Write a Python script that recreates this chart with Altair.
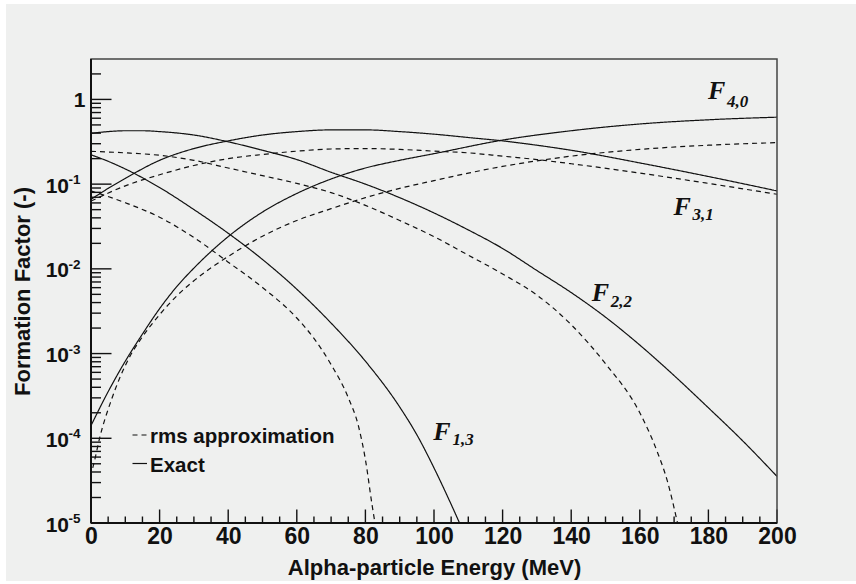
import altair as alt
import pandas as pd

# ---------------- data ----------------
E_F40_EXACT = [0, 5, 10, 15, 20, 25, 30, 40, 50, 60, 70, 80, 90, 100, 120, 140, 160, 180, 200]
F40_EXACT = [1.41e-4, 3.55e-4, 8.13e-4, 1.70e-3, 3.39e-3, 6.17e-3, 1.02e-2, 0.0240, 0.0468, 0.0776,
             0.115, 0.155, 0.191, 0.229, 0.331, 0.427, 0.513, 0.575, 0.617]

E_F40_RMS = [0.5, 1, 2.5, 6, 11, 15, 20, 25, 30, 40, 50, 60, 70, 80, 90, 100, 110, 120, 131, 140, 160,
             180, 200]
F40_RMS = [4.47e-5, 5.37e-5, 1.0e-4, 2.88e-4, 8.71e-4, 1.58e-3, 2.88e-3, 4.79e-3, 7.24e-3, 0.0140,
           0.0243, 0.0372, 0.0513, 0.0692, 0.0891, 0.110, 0.135, 0.162, 0.191, 0.214, 0.257, 0.288, 0.309]

E_F31_EXACT = [0, 5, 10, 20, 30, 40, 50, 60, 70, 80, 90, 100, 110, 120, 130, 140, 160, 180, 200]
F31_EXACT = [0.0661, 0.0891, 0.117, 0.191, 0.263, 0.324, 0.380, 0.417, 0.437, 0.437, 0.417, 0.389,
             0.355, 0.324, 0.288, 0.251, 0.178, 0.123, 0.0832]

E_F31_RMS = [0, 10, 20, 30, 40, 50, 60, 70, 80, 90, 100, 110, 120, 130, 140, 160, 180, 200]
F31_RMS = [0.0631, 0.0955, 0.129, 0.166, 0.200, 0.224, 0.245, 0.260, 0.263, 0.257, 0.245, 0.234,
           0.214, 0.195, 0.174, 0.135, 0.102, 0.0759]

E_F22_EXACT = [0, 5, 10, 15, 20, 30, 40, 50, 60, 70, 80, 90, 100, 110, 120, 130, 140, 150, 160,
               170, 180, 190, 200]
F22_EXACT = [0.398, 0.417, 0.427, 0.427, 0.417, 0.380, 0.316, 0.251, 0.195, 0.138, 0.100, 0.0692,
             0.0457, 0.0288, 0.0174, 9.55e-3, 5.25e-3, 2.69e-3, 1.26e-3, 5.50e-4, 2.29e-4, 9.33e-5, 3.55e-5]

E_F22_RMS = [0, 10, 20, 30, 40, 50, 60, 70, 80, 90, 100, 110, 120, 130, 140, 150, 160, 165, 168, 171]
F22_RMS = [0.244, 0.234, 0.219, 0.191, 0.155, 0.126, 0.102, 0.0794, 0.0562, 0.0372, 0.0240, 0.0145,
           8.71e-3, 4.90e-3, 2.19e-3, 7.59e-4, 2.00e-4, 7.08e-5, 3.16e-5, 1.0e-5]

E_F13_EXACT = [0, 5, 10, 20, 30, 40, 50, 60, 70, 80, 90, 95, 100, 105, 108]
F13_EXACT = [0.222, 0.186, 0.151, 0.0912, 0.0501, 0.0263, 0.0129, 5.75e-3, 2.29e-3, 8.13e-4,
             2.34e-4, 1.10e-4, 4.47e-5, 1.66e-5, 8.9e-6]

E_F13_RMS = [0, 10, 20, 30, 40, 50, 60, 65, 70, 75, 78, 80, 82, 83]
F13_RMS = [0.0832, 0.0603, 0.0407, 0.0234, 0.0120, 6.03e-3, 2.63e-3, 1.51e-3, 7.41e-4, 3.02e-4,
           1.38e-4, 5.62e-5, 1.58e-5, 8.9e-6]

# curve labels: main letter and subscript, anchored in data coordinates
LABEL_MAIN = ["F", "F", "F", "F"]
LABEL_MAIN_E = [179.9, 169.8, 146.0, 99.8]
LABEL_MAIN_F = [1.01, 0.0431, 4.2e-3, 9.66e-5]
LABEL_SUB = ["4,0", "3,1", "2,2", "1,3"]
LABEL_SUB_E = [185.4, 175.4, 151.5, 105.4]
LABEL_SUB_F = [0.82, 0.0376, 3.56e-3, 8.28e-5]

X_MAJOR = [0, 20, 40, 60, 80, 100, 120, 140, 160, 180, 200]
X_MINOR = [v for v in range(5, 200, 5) if v % 20 != 0]
Y_DECADES = [1e-5, 1e-4, 1e-3, 1e-2, 1e-1]
Y_EXPONENTS = ["-5", "-4", "-3", "-2", "-1"]
Y_MAJOR = Y_DECADES + [1.0]
Y_MINOR = [m * d for d in [1e-5, 1e-4, 1e-3, 1e-2, 1e-1] for m in range(2, 10)] + [2.0]

LEGEND_LABELS = ["rms approximation", "Exact"]

# ---------------- styling ----------------
W, H = 686, 464
SANS = "Liberation Sans, Arial, Helvetica, sans-serif"
SERIF = "Liberation Serif, Times New Roman, serif"
INK = "#111111"
BG = "#eff0ef"
DASH = [5, 4]

xscale = alt.Scale(domain=[0, 200], nice=False, zero=False)
yscale = alt.Scale(type="log", domain=[1e-5, 3.0], nice=False)

rows = []
for name, kind, es, fs in [
    ("F40", "Exact", E_F40_EXACT, F40_EXACT),
    ("F40", "rms approximation", E_F40_RMS, F40_RMS),
    ("F31", "Exact", E_F31_EXACT, F31_EXACT),
    ("F31", "rms approximation", E_F31_RMS, F31_RMS),
    ("F22", "Exact", E_F22_EXACT, F22_EXACT),
    ("F22", "rms approximation", E_F22_RMS, F22_RMS),
    ("F13", "Exact", E_F13_EXACT, F13_EXACT),
    ("F13", "rms approximation", E_F13_RMS, F13_RMS),
]:
    for i, (e, f) in enumerate(zip(es, fs)):
        rows.append({"E": e, "F": f, "curve": name + "_" + kind, "kind": kind, "order": i})
lines_df = pd.DataFrame(rows)

one = alt.Data(values=[{}])

# gray panel background (with the thin white margin of the original)
bg = alt.Chart(one).mark_rect(color=BG).encode(
    x=alt.value(-85), x2=alt.value(765), y=alt.value(-55), y2=alt.value(522)
)

lines = alt.Chart(lines_df).mark_line(
    clip=True, interpolate="monotone", color=INK, strokeWidth=1.2
).encode(
    x=alt.X("E:Q", scale=xscale, axis=alt.Axis(
        values=X_MAJOR, format="d", ticks=False, domain=False, grid=False, zindex=2,
        labelFont=SANS, labelFontSize=23, labelFontWeight="bold", labelColor=INK,
        labelPadding=2, labelFlush=False, labelOverlap=False,
        title="Alpha-particle Energy (MeV)", titleFont=SANS, titleFontSize=22,
        titleFontWeight="bold", titleColor=INK, titlePadding=9)),
    y=alt.Y("F:Q", scale=yscale, axis=alt.Axis(
        labels=False, ticks=False, domain=False, grid=False, zindex=2,
        title="Formation Factor (-)", titleFont=SANS, titleFontSize=22,
        titleFontWeight="bold", titleColor=INK, titlePadding=57)),
    detail="curve:N",
    order="order:Q",
    strokeDash=alt.StrokeDash("kind:N", scale=alt.Scale(
        domain=LEGEND_LABELS, range=[DASH, [1, 0]]), legend=None),
)

# ticks drawn inward (ROOT style)
xmaj = alt.Chart(pd.DataFrame({"v": X_MAJOR})).mark_rule(color=INK, strokeWidth=1.4).encode(
    x=alt.X("v:Q", scale=xscale, axis=None), y=alt.value(H), y2=alt.value(H - 13.5))
xmin = alt.Chart(pd.DataFrame({"v": X_MINOR})).mark_rule(color=INK, strokeWidth=1.4).encode(
    x=alt.X("v:Q", scale=xscale, axis=None), y=alt.value(H), y2=alt.value(H - 6.5))
ymaj = alt.Chart(pd.DataFrame({"v": Y_MAJOR})).mark_rule(color=INK, strokeWidth=1.4).encode(
    y=alt.Y("v:Q", scale=yscale, axis=None), x=alt.value(0), x2=alt.value(20.5))
ymin = alt.Chart(pd.DataFrame({"v": Y_MINOR})).mark_rule(color=INK, strokeWidth=1.4).encode(
    y=alt.Y("v:Q", scale=yscale, axis=None), x=alt.value(0), x2=alt.value(10))

frame = alt.Chart(one).mark_rect(filled=False, stroke="#444444", strokeWidth=1.5).encode(
    x=alt.value(0), x2=alt.value(W), y=alt.value(0), y2=alt.value(H))
left_axis = alt.Chart(one).mark_rule(color=INK, strokeWidth=2).encode(
    x=alt.value(0), y=alt.value(0), y2=alt.value(H))
bottom_axis = alt.Chart(one).mark_rule(color=INK, strokeWidth=2).encode(
    x=alt.value(0), x2=alt.value(W), y=alt.value(H))

# y tick labels: "10" with superscript exponent, and "1"
ylab_df = pd.DataFrame({"v": Y_DECADES, "base": ["10"] * len(Y_DECADES), "sup": Y_EXPONENTS})
ybase = alt.Chart(ylab_df).mark_text(
    align="right", baseline="alphabetic", dy=8.5, font=SANS, fontSize=21, fontWeight="bold", color=INK
).encode(y=alt.Y("v:Q", scale=yscale, axis=None), x=alt.value(-22), text="base:N")
ysup = alt.Chart(ylab_df).mark_text(
    align="left", baseline="alphabetic", dy=0, font=SANS, fontSize=13.5, fontWeight="bold", color=INK
).encode(y=alt.Y("v:Q", scale=yscale, axis=None), x=alt.value(-22.5), text="sup:N")
yone = alt.Chart(pd.DataFrame({"v": [1.0], "t": ["1"]})).mark_text(
    align="right", baseline="alphabetic", dy=8, font=SANS, fontSize=21, fontWeight="bold", color=INK
).encode(y=alt.Y("v:Q", scale=yscale, axis=None), x=alt.value(-5.5), text="t:N")

# curve labels F_{l,n}
main_df = pd.DataFrame({"E": LABEL_MAIN_E, "F": LABEL_MAIN_F, "t": LABEL_MAIN})
sub_df = pd.DataFrame({"E": LABEL_SUB_E, "F": LABEL_SUB_F, "t": LABEL_SUB})
lab_main = alt.Chart(main_df).mark_text(
    align="left", baseline="alphabetic", font=SERIF, fontSize=26, fontWeight="bold",
    fontStyle="italic", color=INK
).encode(x=alt.X("E:Q", scale=xscale, axis=None), y=alt.Y("F:Q", scale=yscale, axis=None), text="t:N")
lab_sub = alt.Chart(sub_df).mark_text(
    align="left", baseline="alphabetic", font=SERIF, fontSize=17, fontWeight="bold",
    fontStyle="italic", color=INK
).encode(x=alt.X("E:Q", scale=xscale, axis=None), y=alt.Y("F:Q", scale=yscale, axis=None), text="t:N")

# legend (decoration placed in pixel space inside the frame)
leg_dash = alt.Chart(one).mark_rule(color=INK, strokeWidth=1.2, strokeDash=DASH).encode(
    x=alt.value(41.5), x2=alt.value(55.5), y=alt.value(376))
leg_solid = alt.Chart(one).mark_rule(color=INK, strokeWidth=1.2).encode(
    x=alt.value(41.5), x2=alt.value(56), y=alt.value(404.5))
leg_text1 = alt.Chart(pd.DataFrame({"t": [LEGEND_LABELS[0]]})).mark_text(
    align="left", baseline="alphabetic", font=SANS, fontSize=20.5, fontWeight="bold", color=INK
).encode(x=alt.value(59), y=alt.value(383.5), text="t:N")
leg_text2 = alt.Chart(pd.DataFrame({"t": [LEGEND_LABELS[1]]})).mark_text(
    align="left", baseline="alphabetic", font=SANS, fontSize=20.5, fontWeight="bold", color=INK
).encode(x=alt.value(59), y=alt.value(412.5), text="t:N")

chart = alt.layer(
    bg, lines, xmaj, xmin, ymaj, ymin, frame, left_axis, bottom_axis,
    ybase, ysup, yone, lab_main, lab_sub, leg_dash, leg_solid, leg_text1, leg_text2,
).resolve_scale(x="shared", y="shared").resolve_axis(
    x="independent", y="independent"
).properties(
    width=W, height=H,
    padding={"left": 91, "top": 59, "right": 79, "bottom": 61},
    autosize=alt.AutoSizeParams(type="none"),
    background="white",
).configure_view(stroke=None)

chart.save("out.html", embed_options={"renderer": "svg", "actions": False})
